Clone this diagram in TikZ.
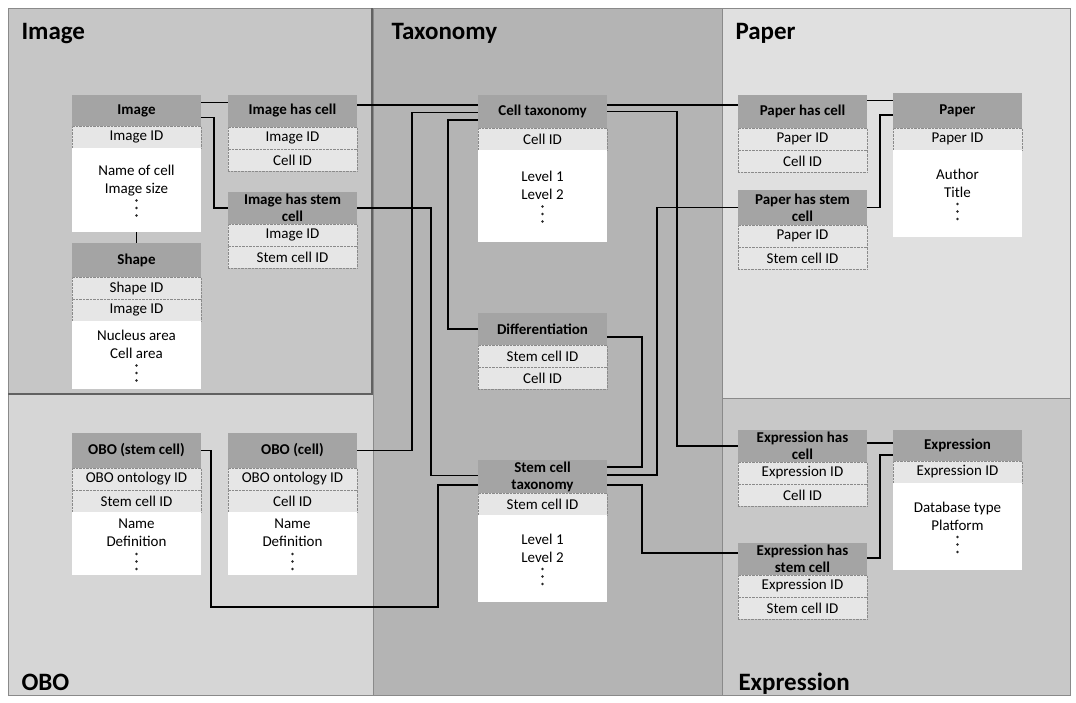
\documentclass[tikz,border=0pt]{standalone}
\usepackage{fontspec}
\setmainfont{Carlito}
\usetikzlibrary{calc}
\definecolor{imC}{HTML}{C6C6C6}
\definecolor{txC}{HTML}{B4B4B4}
\definecolor{paC}{HTML}{E0E0E0}
\definecolor{obC}{HTML}{D6D6D6}
\definecolor{exC}{HTML}{C8C8C8}
\definecolor{hdrC}{HTML}{A4A4A4}
\definecolor{keyC}{HTML}{E6E6E6}
\definecolor{lineC}{HTML}{8A8A8A}
\newcommand{\dotspace}{\\[3pt]\rule{0pt}{15.5pt}}
\newcommand{\attrdots}[1]{\foreach \k in {10.5,18,25.5} {\fill[black!85] ($(#1.center)+(0,\k)$) circle (1.3pt);}}
\begin{document}
\begin{tikzpicture}[x=1pt,y=-1pt,
  box/.style={minimum width=129pt, inner sep=0pt, outer sep=0pt, anchor=north west, align=center,
    font=\fontsize{15}{18}\selectfont},
  hdr/.style={box, fill=hdrC, font=\fontsize{15}{17}\selectfont\bfseries},
  keyrow/.style={box, fill=keyC, draw=lineC, densely dotted, minimum height=22pt},
  attr/.style={box, fill=white},
  conn/.style={draw=black, line width=1.1pt},
  paneledge/.style={draw=lineC, line width=0.8pt},
  title/.style={anchor=base west, font=\fontsize{25}{30}\selectfont\bfseries}]
\useasboundingbox (0,0) rectangle (1076,702);
\fill[white] (0,0) rectangle (1076,702);
% panels
\fill[txC] (373,8) rectangle (722,695);
\fill[imC] (8,8) rectangle (373,395);
\fill[obC] (8,395) rectangle (373,695);
\fill[paC] (722,8) rectangle (1070,398);
\fill[exC] (722,398) rectangle (1070,695);
\draw[paneledge] (8,8) rectangle (1070,695);
\draw[paneledge] (373,8) -- (373,695);
\draw[paneledge] (722,8) -- (722,695);
\draw[paneledge] (722,398) -- (1070,398);
\draw[draw=lineC!70!black, line width=2pt] (8,394) -- (372,394) -- (372,8);
% titles
\node[title] (tImage) at (18,39) {Image};
\node[title] (tTax) at (388,39) {Taxonomy};
\node[title] (tPaper) at (732,39) {Paper};
\node[title] (tObo) at (18,690) {OBO};
\node[title] (tExpr) at (735,690) {Expression};

% Image
\node[hdr, minimum height=31pt] (imgh) at (72,95) {Image};
\node[keyrow] (imgk) at (72,126) {Image ID};
\node[attr, minimum height=84pt] (imga) at (72,148) {Name of cell\\Image size\dotspace};
% Shape
\node[hdr, minimum height=34pt] (shh) at (72,243) {Shape};
\node[keyrow] (shk1) at (72,277) {Shape ID};
\node[keyrow] (shk2) at (72,299) {Image ID};
\node[attr, minimum height=68pt] (sha) at (72,321) {Nucleus area\\Cell area\dotspace};
% Image has cell
\node[hdr, minimum height=32pt] (ihch) at (228,95) {Image has cell};
\node[keyrow] (ihck1) at (228,127) {Image ID};
\node[keyrow] (ihck2) at (228,149) {Cell ID};
% Image has stem cell
\node[hdr, minimum height=32pt] (ihsh) at (228,192) {Image has stem\\cell};
\node[keyrow] (ihsk1) at (228,224) {Image ID};
\node[keyrow] (ihsk2) at (228,246) {Stem cell ID};
% Cell taxonomy
\node[hdr, minimum height=33pt] (cth) at (478,95) {Cell taxonomy};
\node[keyrow] (ctk) at (478,128) {Cell ID};
\node[attr, minimum height=92pt] (cta) at (478,150) {Level 1\\Level 2\dotspace};
% Differentiation
\node[hdr, minimum height=32pt] (dfh) at (478,313) {Differentiation};
\node[keyrow] (dfk1) at (478,345) {Stem cell ID};
\node[keyrow] (dfk2) at (478,367) {Cell ID};
% Stem cell taxonomy
\node[hdr, minimum height=33pt] (scth) at (478,460) {Stem cell\\taxonomy};
\node[keyrow] (sctk) at (478,493) {Stem cell ID};
\node[attr, minimum height=87pt] (scta) at (478,515) {Level 1\\Level 2\dotspace};
% Paper has cell
\node[hdr, minimum height=33pt] (phch) at (738,95) {Paper has cell};
\node[keyrow] (phck1) at (738,128) {Paper ID};
\node[keyrow] (phck2) at (738,150) {Cell ID};
% Paper has stem cell
\node[hdr, minimum height=35pt] (phsh) at (738,190) {Paper has stem\\cell};
\node[keyrow] (phsk1) at (738,225) {Paper ID};
\node[keyrow] (phsk2) at (738,247) {Stem cell ID};
% Paper
\node[hdr, minimum height=35pt] (ph) at (893,93) {Paper};
\node[keyrow] (pk) at (893,128) {Paper ID};
\node[attr, minimum height=87pt] (pa) at (893,150) {Author\\Title\dotspace};
% Expression has cell
\node[hdr, minimum height=32pt] (ehch) at (738,430) {Expression has\\cell};
\node[keyrow] (ehck1) at (738,462) {Expression ID};
\node[keyrow] (ehck2) at (738,484) {Cell ID};
% Expression has stem cell
\node[hdr, minimum height=32pt] (ehsh) at (738,543) {Expression has\\stem cell};
\node[keyrow] (ehsk1) at (738,575) {Expression ID};
\node[keyrow] (ehsk2) at (738,597) {Stem cell ID};
% Expression
\node[hdr, minimum height=31pt] (eh) at (893,430) {Expression};
\node[keyrow] (ek) at (893,461) {Expression ID};
\node[attr, minimum height=87pt] (ea) at (893,483) {Database type\\Platform\dotspace};
% OBO (stem cell)
\node[hdr, minimum height=35pt] (osh) at (72,433) {OBO (stem cell)};
\node[keyrow] (osk1) at (72,468) {OBO ontology ID};
\node[keyrow] (osk2) at (72,490) {Stem cell ID};
\node[attr, minimum height=63pt] (osa) at (72,512) {Name\\Definition\dotspace};
% OBO (cell)
\node[hdr, minimum height=35pt] (och) at (228,433) {OBO (cell)};
\node[keyrow] (ock1) at (228,468) {OBO ontology ID};
\node[keyrow] (ock2) at (228,490) {Cell ID};
\node[attr, minimum height=63pt] (oca) at (228,512) {Name\\Definition\dotspace};

% vertical ellipses in the attribute areas
\attrdots{imga}
\attrdots{sha}
\attrdots{cta}
\attrdots{scta}
\attrdots{pa}
\attrdots{ea}
\attrdots{osa}
\attrdots{oca}

% connectors
\coordinate (c1) at ($(imgh.east)+(0,-8)$);
\draw[conn] (c1) -- (c1 -| ihch.west);
\draw[conn] ($(imgh.east)+(0,7)$) -- ++(13,0) |- (ihsh.west);
\draw[conn] (imga.south) -- (shh.north);
\coordinate (c2) at ($(ihch.east)+(0,-6)$);
\draw[conn] (c2) -- (c2 -| cth.west);
\draw[conn] (ihsh.east) -- ++(74,0) |- ($(scth.west)+(0,-1)$);
\draw[conn] (och.east) -- ++(55,0) |- ($(cth.west)+(0,1)$);
\draw[conn] (dfh.west) -- ++(-30,0) |- ($(cth.west)+(0,8.5)$);
\draw[conn] (osh.east) -- ++(10,0) |- (438,607) |- ($(scth.west)+(0,8.5)$);
\draw[conn] ($(dfh.east)+(0,8)$) -- ++(35,0) |- ($(scth.east)+(0,-9.5)$);
\draw[conn] (phsh.west) -- ++(-81,0) |- ($(scth.east)+(0,-1.5)$);
\coordinate (c3) at ($(cth.east)+(0,-6.5)$);
\draw[conn] (c3) -- (c3 -| phch.west);
\draw[conn] (cth.east) -- ++(70,0) |- (ehch.west);
\draw[conn] ($(scth.east)+(0,8.5)$) -- ++(35,0) |- ($(ehsh.west)+(0,-6)$);
\coordinate (c4) at ($(phch.east)+(0,-11)$);
\draw[conn] (c4) -- (c4 -| ph.west);
\draw[conn] (phsh.east) -- ++(13,0) |- ($(ph.west)+(0,4.5)$);
\coordinate (c5) at ($(ehch.east)+(0,-3)$);
\draw[conn] (c5) -- (c5 -| eh.west);
\draw[conn] ($(ehsh.east)+(0,-1)$) -- ++(13,0) |- ($(eh.west)+(0,9.5)$);
\end{tikzpicture}
\end{document}
